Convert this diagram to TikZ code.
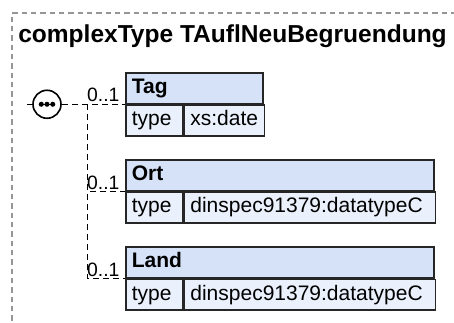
\documentclass[tikz,border=0pt]{standalone}
\usepackage{fontspec}
\setmainfont{Liberation Sans}
\usetikzlibrary{positioning}
\definecolor{xsHead}{RGB}{214,226,248}
\definecolor{xsRow}{RGB}{234,241,252}
\definecolor{xsFrame}{RGB}{150,150,150}
\tikzset{
  xs title/.style={
    inner sep=0pt,
    font=\bfseries\fontsize{18.4}{21}\selectfont,
  },
  xs head/.style={
    rectangle,
    draw=black!85,
    line width=1.2pt,
    fill=xsHead,
    minimum height=23pt,
    inner xsep=4.5pt,
    inner ysep=0pt,
    text width=#1,
    align=left,
    text height=11.5pt,
    text depth=3.5pt,
    font=\bfseries\fontsize{15.75}{18}\selectfont,
  },
  xs cell/.style={
    xs head=#1,
    fill=xsRow,
    font=\fontsize{15.75}{18}\selectfont,
  },
  xs seq/.style={circle, draw, fill=white, line width=1.2pt, minimum size=21pt, inner sep=0pt},
  xs dot/.style={circle, fill, inner sep=0pt, minimum size=3.8pt},
  xs occurs/.style={inner sep=1pt, font=\fontsize{14.5}{16}\selectfont},
  xs link/.style={line width=1.1pt, dash pattern=on 4.5pt off 3pt},
  xs frame/.style={draw=xsFrame, line width=0.8pt, dash pattern=on 4pt off 3pt},
}

\begin{document}
\begin{tikzpicture}[x=0.75pt, y=-0.75pt]
  \useasboundingbox (0,0) rectangle (454,322);
  \clip (0,0) rectangle (454,322);
  \draw[xs frame] (12,330) -- (12,13) -- (470,13);
  \node[xs title, anchor=base west] (title) at (18,42) {complexType TAuflNeuBegruendung};

  % elements
  \node[xs head={93.75pt}, anchor=north west] (tag) at (125,72) {Tag};
  \node[xs cell={33.75pt}, below right=0pt and 0pt of tag.south west] (tag type) {type};
  \node[xs cell={51pt}, right=0pt of tag type] (tag val) {xs:date};

  \node[xs head={222pt}, below right=17pt and 0pt of tag type.south west] (ort) {Ort};
  \node[xs cell={33.75pt}, below right=0pt and 0pt of ort.south west] (ort type) {type};
  \node[xs cell={179.25pt}, right=0pt of ort type] (ort val) {dinspec91379:datatypeC};

  \node[xs head={222pt}, below right=17pt and 0pt of ort type.south west] (land) {Land};
  \node[xs cell={33.75pt}, below right=0pt and 0pt of land.south west] (land type) {type};
  \node[xs cell={179.25pt}, right=0pt of land type] (land val) {dinspec91379:datatypeC};

  % sequence
  \node[xs seq] (seq) at (tag.south west -| 47,0) {};
  \draw[line width=0.9pt] (seq.center) ++(-4.3pt,0) -- ++(8.6pt,0);
  \node[xs dot] (dot1) at ([xshift=-4.3pt]seq.center) {};
  \node[xs dot] (dot2) at (seq.center) {};
  \node[xs dot] (dot3) at ([xshift=4.3pt]seq.center) {};
  \coordinate (in) at (seq.center -| 27,0);
  \coordinate (fork) at (seq.center -| 87.5,0);
  \draw[xs link] (in) -- (seq.west);
  \draw[xs link] (seq.east) -- (tag.south west);
  \draw[xs link] (fork) |- (ort.south west);
  \draw[xs link] (fork) |- (land.south west);

  % occurrences
  \node[xs occurs, above left=0.5pt and 3pt of tag.south west] (tag occ) {0..1};
  \node[xs occurs, above left=0.5pt and 3pt of ort.south west] (ort occ) {0..1};
  \node[xs occurs, above left=0.5pt and 3pt of land.south west] (land occ) {0..1};
\end{tikzpicture}
\end{document}
